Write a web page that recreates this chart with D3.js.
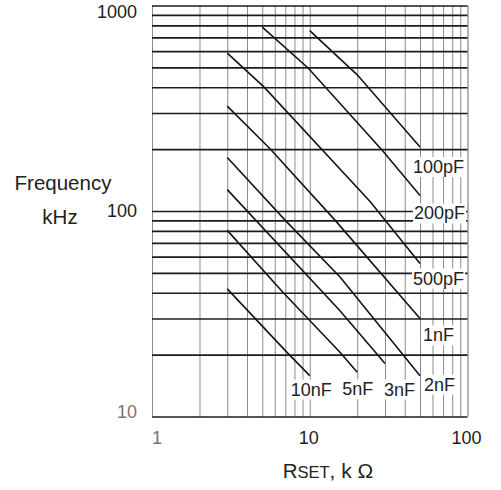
<!DOCTYPE html>
<html lang="en">
<head>
<meta charset="UTF-8">
<title>Frequency vs RSET</title>
<script src="https://d3js.org/d3.v7.min.js"></script>
<style>
  body { margin: 0; background: white; font-family: "Liberation Sans", Arial, sans-serif; }
  svg { display: block; }
  .hgrid line { stroke: #1c1c1c; stroke-width: 1.6; }
  .vgrid line { stroke: #8c8c8c; stroke-width: 1; }
  .curve { fill: none; stroke: #141414; stroke-width: 1.6; }
  .tick-label { font-size: 18px; fill: #222; }
  .cap-label { font-size: 18px; fill: #222; }
  .title { font-size: 20.5px; fill: #222; }
</style>
</head>
<body>
<script>
// grid and tick values (log-log)
const freqTicks = [10, 100, 1000];
const rsetTicks = [1, 10, 100];
const freqGrid = [10, 20, 30, 40, 50, 60, 70, 80, 90, 100, 200, 300, 400, 500, 600, 700, 800, 900, 1000];
const rsetGrid = [1, 2, 3, 4, 5, 6, 7, 8, 9, 10, 20, 30, 40, 50, 60, 70, 80, 90, 100];

// one curve per timing capacitor (RSET in kOhm, f in kHz)
const capLabels = ["100pF", "200pF", "500pF", "1nF", "2nF", "3nF", "5nF", "10nF"];
const rsetValues = [
  [10, 20, 50],
  [5, 9.8, 28.7, 50],
  [3, 5.1, 24.2, 50],
  [3, 5.6, 14.5, 50],
  [3, 7, 15.6, 50],
  [3, 15.6, 30],
  [3, 6.8, 15.6, 20],
  [3, 7.4, 10]
];
const freqValues = [
  [755, 460, 205],
  [785, 495, 198, 119],
  [586, 403, 111, 55.5],
  [324, 201, 90, 30],
  [182, 90, 47.6, 15.8],
  [127, 32.6, 18.1],
  [80.5, 40, 20.5, 16.4],
  [41.8, 20, 15.8]
];

const W = 501, H = 490;
const x = d3.scaleLog().domain([1, 100]).range([152, 467.5]);
const y = d3.scaleLog().domain([10, 1000]).range([416.5, 5.5]);

const svg = d3.select("body").append("svg")
    .attr("width", W)
    .attr("height", H);

// vertical grid
const vg = svg.append("g")
    .attr("class", "vgrid")
    .attr("transform", `translate(0,${y(10)})`)
    .call(d3.axisBottom(x).tickValues(rsetGrid).tickSize(-(y(10) - y(1000))).tickFormat(""));
vg.select(".domain").remove();
vg.selectAll(".tick line")
    .filter(d => d === 100)
    .style("stroke", "#b5b5b5")
    .style("stroke-width", 2);

// horizontal grid
const hg = svg.append("g")
    .attr("class", "hgrid")
    .attr("transform", `translate(${x(1)},0)`)
    .call(d3.axisLeft(y).tickValues(freqGrid).tickSize(-(x(100) - x(1))).tickFormat(""));
hg.select(".domain").remove();

// curves
const line = d3.line()
    .x(d => x(d[0]))
    .y(d => y(d[1]));

const curves = capLabels.map((lab, i) => ({
    label: lab,
    pts: rsetValues[i].map((r, j) => [r, freqValues[i][j]])
}));

svg.selectAll(".curve")
    .data(curves)
    .enter()
    .append("path")
    .attr("class", "curve")
    .attr("d", d => line(d.pts));

// labels sit next to the end of each curve
const nudge = {
    "100pF": [-7, 26], "200pF": [-6, 24], "500pF": [-7, 21], "1nF": [3, 23],
    "2nF": [4, 15], "3nF": [-1, 32], "5nF": [-15, 23], "10nF": [-19, 20]
};

const lg = svg.selectAll(".cap")
    .data(curves)
    .enter()
    .append("g")
    .attr("class", "cap");

lg.append("rect").attr("fill", "white");
lg.append("text")
    .attr("class", "cap-label")
    .attr("x", d => x(d.pts[d.pts.length - 1][0]) + nudge[d.label][0])
    .attr("y", d => y(d.pts[d.pts.length - 1][1]) + nudge[d.label][1])
    .text(d => d.label);

lg.each(function() {
    const g = d3.select(this);
    const b = g.select("text").node().getBBox();
    g.select("rect")
        .attr("x", b.x - 1)
        .attr("y", b.y)
        .attr("width", b.width + 2)
        .attr("height", b.height);
});

// y tick labels
svg.selectAll(".ylab")
    .data(freqTicks)
    .enter()
    .append("text")
    .attr("class", "tick-label")
    .attr("x", 137)
    .attr("y", d => Math.min(Math.max(y(d), 12), 412))
    .attr("dy", "0.35em")
    .attr("text-anchor", "end")
    .style("fill", d => d === 10 ? "#777" : "#222")
    .text(d => d);

// x tick labels
svg.selectAll(".xlab")
    .data(rsetTicks)
    .enter()
    .append("text")
    .attr("class", "tick-label")
    .attr("x", d => d === 1 ? x(d) + 5 : x(d) - 1)
    .attr("y", 444)
    .attr("text-anchor", "middle")
    .style("fill", d => d === 1 ? "#777" : "#222")
    .text(d => d);

// axis titles
svg.append("text")
    .attr("class", "title")
    .attr("x", 63)
    .attr("y", 190)
    .attr("text-anchor", "middle")
    .text("Frequency");

svg.append("text")
    .attr("class", "title")
    .attr("x", 60)
    .attr("y", 224)
    .attr("text-anchor", "middle")
    .text("kHz");

const xt = svg.append("text")
    .attr("class", "title")
    .attr("x", 328)
    .attr("y", 478)
    .attr("text-anchor", "middle");
xt.append("tspan").text("R");
xt.append("tspan").style("font-size", "16.5px").text("SET");
xt.append("tspan").style("font-size", "21px").text(", k \u03A9");
</script>
</body>
</html>
